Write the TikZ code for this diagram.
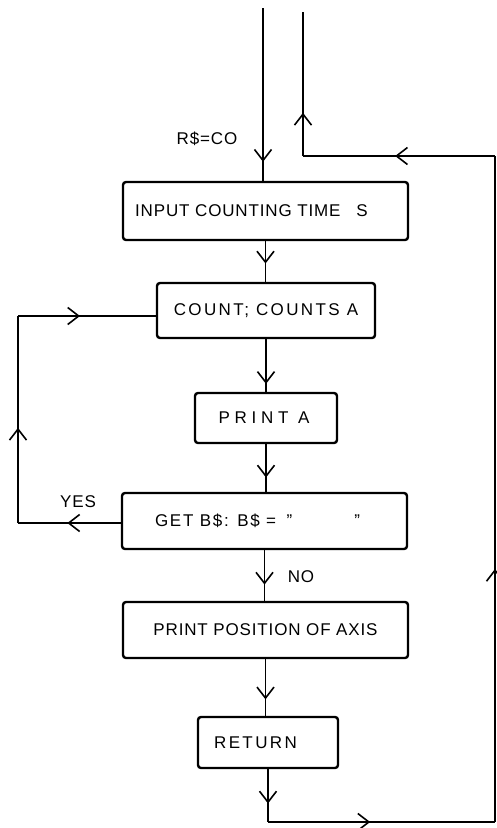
\documentclass[tikz,border=0pt]{standalone}
\usepackage{fontspec}
\setmainfont{Liberation Sans}[LetterSpace=5]
\usetikzlibrary{arrows.meta,decorations.markings}
\begin{document}
\begin{tikzpicture}[x=1pt,y=-1pt,
  box/.style={draw,line width=2.4pt,rounded corners=3pt,inner sep=0pt,font=\fontsize{17}{19}\selectfont},
  conn/.style={line width=1.6pt},
  thinconn/.style={line width=1.1pt},
  tip/.style={postaction={decorate,decoration={markings,mark=at position #1 with {\arrow[line width=1.6pt]{Straight Barb[length=11pt,width=17pt]}}}}},
  lbl/.style={font=\fontsize{17}{19}\selectfont}]
\useasboundingbox (0,0) rectangle (496,828);

% boxes
\node[box,minimum width=285pt,minimum height=58pt] (b1) at (265.5,211) {INPUT COUNTING TIME\kern16pt S\kern28pt};
\node[box,minimum width=218pt,minimum height=55pt] (b2) at (266,310.5) {\addfontfeature{LetterSpace=14}COUNT; COUNTS A};
\node[box,minimum width=142pt,minimum height=50pt] (b3) at (266,418) {\addfontfeature{LetterSpace=28}PRINT A\kern4pt};
\node[box,minimum width=285pt,minimum height=56pt] (b4) at (264.5,521) {\addfontfeature{LetterSpace=10}GET B\$: B\$ = \kern4pt"\kern62pt"\kern14pt};
\node[box,minimum width=285pt,minimum height=56pt] (b5) at (265.5,630) {PRINT POSITION OF AXIS};
\node[box,minimum width=140pt,minimum height=51pt] (b6) at (268,742.5) {\addfontfeature{LetterSpace=14}RETURN\kern25pt};

% labels
\node[lbl] (lr) at (207,139) {R\$=CO};
\node[lbl] (ly) at (78,502) {YES};
\node[lbl] (ln) at (301,577) {NO};

% coordinates
\coordinate (in) at (263,8);
\coordinate (rt) at (303,12);
\coordinate (rc) at (303,156);
\coordinate (rr) at (495,156);
\coordinate (br) at (495,822);
\coordinate (bl) at (268,822);
\coordinate (yl) at (18,316);
\coordinate (yb) at (18,523);

% main flow
\draw[conn,tip=0.89] (in) -- (in |- b1.north);
\draw[conn,tip=0.55] (b1.south) -- (b1.south |- b2.north);
\draw[conn,tip=0.85] (b2.south) -- (b2.south |- b3.north);
\draw[conn,tip=0.70] (b3.south) -- (b3.south |- b4.north);
\draw[conn,tip=0.68] (b4.south) -- (b4.south |- b5.north);
\draw[conn,tip=0.71] (b5.south) -- (b5.south |- b6.north);

% YES loop
\draw[conn,tip=0.52] (b4.west |- yb) -- (yb);
\draw[conn,tip=0.46] (yb) -- (yl);
\draw[conn,tip=0.45] (yl) -- (yl -| b2.west);

% return loop
\draw[conn,tip=0.65] (b6.south) -- (bl);
\draw[thinconn,tip=0.45] (bl) -- (br);
\draw[thinconn,tip=0.38] (br) -- (rr);
\draw[conn,tip=0.52] (rr) -- (rc);
\draw[conn,tip=0.30] (rc) -- (rt);
\end{tikzpicture}
\end{document}
